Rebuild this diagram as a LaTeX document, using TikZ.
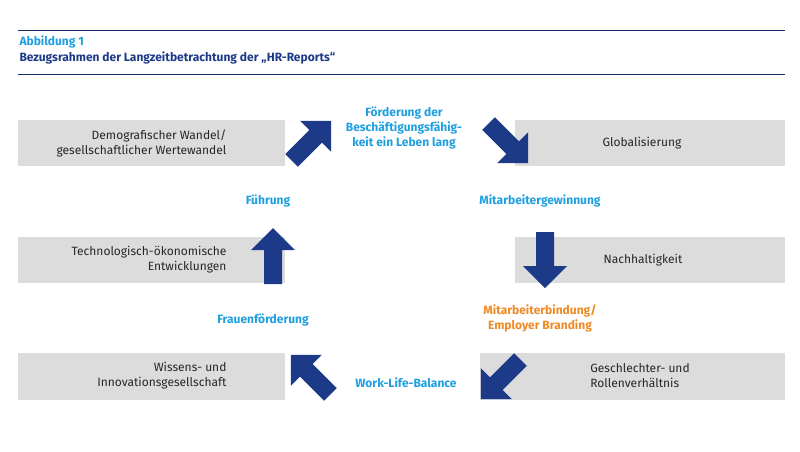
\documentclass[tikz,border=0pt]{standalone}
\usepackage{fontspec}
\setmainfont{Fira Sans}
\definecolor{hrblue}{HTML}{1C3A87}
\definecolor{hrcyan}{HTML}{1E9FDF}
\definecolor{hrorange}{HTML}{EE8A24}
\definecolor{hrgray}{HTML}{DCDCDD}
\begin{document}
\begin{tikzpicture}[x=1pt,y=-1pt,
    graybox/.style={fill=hrgray},
    boxtext/.style={font=\fontsize{12}{15}\selectfont,align=center,text=black!85},
    keyword/.style={font=\fontsize{12}{15}\selectfont\bfseries,align=center,text=hrcyan},
    blockarrow/.pic={\fill[hrblue] (0,-30) -- (22,-8) -- (9,-8) -- (9,26) -- (-9,26) -- (-9,-8) -- (-22,-8) -- cycle;}]
  \useasboundingbox (0,0) rectangle (800,451);

  % Header
  \draw[hrblue!80!black,line width=0.6pt] (18,30) -- (785,30);
  \draw[hrblue!80!black,line width=0.6pt] (18,74) -- (785,74);
  \node[anchor=west,text=hrcyan,font=\fontsize{12}{14}\selectfont\bfseries] (fig) at (16,42) {Abbildung 1};
  \node[anchor=west,text=hrblue,font=\fontsize{12}{14}\selectfont\bfseries] (title) at (16,58) {Bezugsrahmen der Langzeitbetrachtung der „HR-Reports“};

  % Gray rows
  \fill[graybox] (18,120) rectangle (285,166);
  \fill[graybox] (18,237) rectangle (285,283);
  \fill[graybox] (18,353) rectangle (285,400);
  \fill[graybox] (515,120) rectangle (785,166);
  \fill[graybox] (515,237) rectangle (785,283);
  \fill[graybox] (480,353) rectangle (785,400);

  \node[boxtext,align=right,anchor=east] (demo) at (230,143) {Demografischer Wandel/\\gesellschaftlicher Wertewandel};
  \node[boxtext,align=right,anchor=east] (tech) at (230,260) {Technologisch-ökonomische\\Entwicklungen};
  \node[boxtext,align=right,anchor=east] (wiss) at (230,376) {Wissens- und\\Innovationsgesellschaft};
  \node[boxtext] (glob) at (642,143) {Globalisierung};
  \node[boxtext] (nach) at (643,260) {Nachhaltigkeit};
  \node[boxtext,align=left] (gesch) at (640,376) {Geschlechter- und\\Rollenverhältnis};

  % Cycle labels
  \node[keyword] (foerd) at (404,128) {Förderung der\\Beschäftigungsfähig-\\keit ein Leben lang};
  \node[keyword] (gewinn) at (540,201) {Mitarbeitergewinnung};
  \node[keyword,text=hrorange] (bind) at (540,318) {Mitarbeiterbindung/\\Employer Branding};
  \node[keyword] (wlb) at (406,383) {Work-Life-Balance};
  \node[keyword] (frauen) at (263,320) {Frauenförderung};
  \node[keyword] (fuehr) at (268,201) {Führung};

  % Block arrows
  \pic[rotate=-45] at (310,142) {blockarrow};
  \pic[rotate=-135] at (507,142) {blockarrow};
  \pic[rotate=180] at (545,258) {blockarrow};
  \pic[rotate=135] at (502,378) {blockarrow};
  \pic[rotate=45] at (312,376) {blockarrow};
  \pic at (273,258) {blockarrow};
\end{tikzpicture}
\end{document}
